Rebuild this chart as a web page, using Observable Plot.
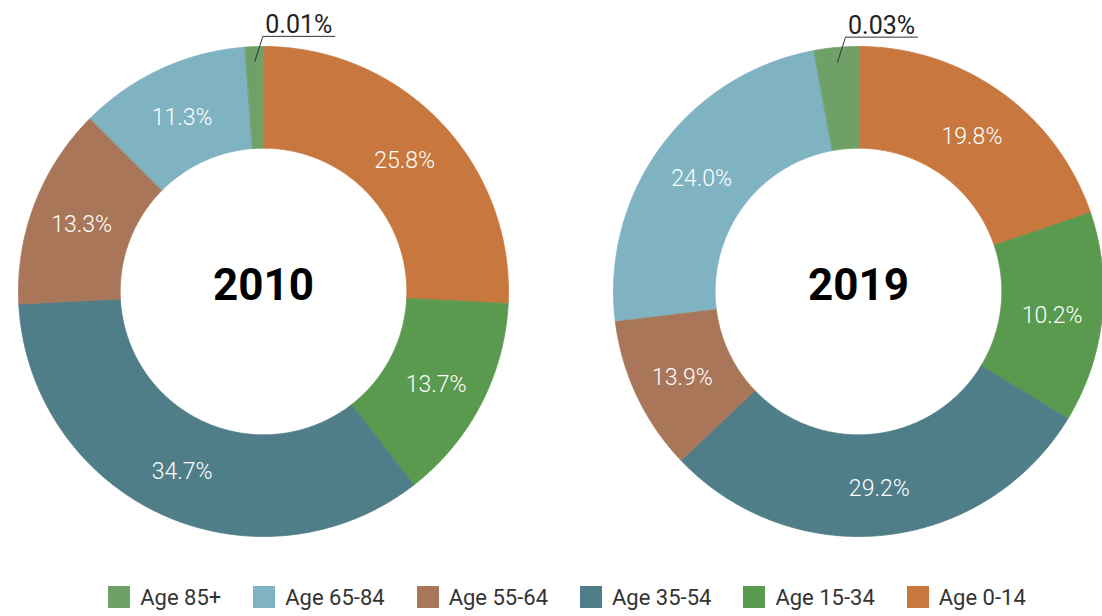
<!DOCTYPE html>
<html>
<head>
<meta charset="utf-8">
<script src="https://cdn.jsdelivr.net/npm/d3@7"></script>
<script src="https://cdn.jsdelivr.net/npm/@observablehq/plot@0.6"></script>
<style>
  html, body { margin: 0; padding: 0; background: #fff; }
  body { width: 1102px; height: 616px; overflow: hidden; font-family: Roboto, "Noto Sans", sans-serif; }
  #legend { display: flex; justify-content: center; padding-left: 32px; padding-top: 6px; height: 38px; align-items: center; }
  .lg-swatches { font-family: Roboto, sans-serif !important; font-size: 22px !important; color: #333 !important; margin: 0 !important; }
  .lg-swatch { margin-right: 32px !important; }
  .lg-swatch:last-child { margin-right: 0 !important; }
  .lg-swatch > svg { margin-right: 10px !important; }
</style>
</head>
<body>
<div id="chart"></div>
<div id="legend"></div>
<script>
// ---- data ----
const years = ["2010", "2019"];
const ages = ["Age 0-14", "Age 15-34", "Age 35-54", "Age 55-64", "Age 65-84", "Age 85+"];
const values2010 = [25.8, 13.7, 34.7, 13.3, 11.3, 1.2];
const values2019 = [19.8, 13.9, 29.2, 10.2, 24.0, 2.9];
const labels2010 = ["25.8%", "13.7%", "34.7%", "13.3%", "11.3%", "0.01%"];
const labels2019 = ["19.8%", "10.2%", "29.2%", "13.9%", "24.0%", "0.03%"];
const legendAges = ["Age 85+", "Age 65-84", "Age 55-64", "Age 35-54", "Age 15-34", "Age 0-14"];
const legendColors = ["#6fa067", "#80b3c1", "#a97659", "#4f7e88", "#5a9a4e", "#c8783f"];

// ---- layout ----
const W = 1102, H = 572, R = 245;
const innerRatio = 0.585;
const cxPx = [263, 858], cyPx = 291;
const centers = cxPx.map(c => (c - cxPx[0]) / R);
const labelR = 0.795;

const valuesByYear = [values2010, values2019];
const labelsByYear = [labels2010, labels2019];

const polar = (i, a, r) => ({x: centers[i] + r * Math.sin(a), y: r * Math.cos(a)});

const slicePts = [];
const insideLabels = [];
const calloutPts = [];
const calloutLabels = [];
valuesByYear.forEach((vals, i) => {
  const total = d3.sum(vals);
  let cum = 0;
  vals.forEach((v, j) => {
    const a0 = cum / total * 2 * Math.PI;
    cum += v;
    const a1 = cum / total * 2 * Math.PI;
    const n = Math.max(2, Math.ceil((a1 - a0) / (Math.PI / 360)));
    const key = years[i] + ages[j];
    for (let k = 0; k <= n; k++) {
      const a = a0 + (a1 - a0) * k / n;
      slicePts.push({key, age: ages[j], ...polar(i, a, 1)});
    }
    for (let k = n; k >= 0; k--) {
      const a = a0 + (a1 - a0) * k / n;
      slicePts.push({key, age: ages[j], ...polar(i, a, innerRatio)});
    }
    const mid = (a0 + a1) / 2;
    if (j < vals.length - 1) {
      insideLabels.push({text: labelsByYear[i][j], ...polar(i, mid, labelR)});
    } else {
      const s = polar(i, mid, 0.94);
      const e = {x: s.x + 8 / R, y: s.y + 25 / R};
      const f = {x: e.x + 72 / R, y: e.y};
      calloutPts.push({year: years[i], ...s}, {year: years[i], ...e}, {year: years[i], ...f});
      calloutLabels.push({text: labelsByYear[i][j], x: (e.x + f.x) / 2, y: e.y});
    }
  });
});

const colorOpts = {domain: legendAges, range: legendColors};

const chart = Plot.plot({
  width: W,
  height: H,
  marginTop: 0, marginRight: 0, marginBottom: 0, marginLeft: 0,
  style: {fontFamily: "Roboto, sans-serif", background: "#fff"},
  x: {axis: null, domain: [-cxPx[0] / R, (W - cxPx[0]) / R]},
  y: {axis: null, domain: [-(H - cyPx) / R, cyPx / R]},
  color: colorOpts,
  marks: [
    Plot.line(slicePts, {x: "x", y: "y", z: "key", fill: "age", stroke: "age", strokeWidth: 0.8, curve: "linear-closed"}),
    Plot.text(insideLabels, {x: "x", y: "y", text: "text", fill: "white", fontSize: 23, fontWeight: 300, dy: 3}),
    Plot.line(calloutPts, {x: "x", y: "y", z: "year", stroke: "#333", strokeWidth: 1}),
    Plot.text(calloutLabels, {x: "x", y: "y", text: "text", fill: "#222", fontSize: 25, fontWeight: 400, lineAnchor: "bottom", dy: -3}),
    Plot.text(years, {x: (d, i) => centers[i], y: 0, text: d => d, fill: "#000", fontSize: 44, fontWeight: 700, dy: -6})
  ]
});
document.getElementById("chart").appendChild(chart);

const legend = Plot.legend({color: colorOpts, legend: "swatches", swatchSize: 22, className: "lg"});
document.getElementById("legend").appendChild(legend);
</script>
</body>
</html>
